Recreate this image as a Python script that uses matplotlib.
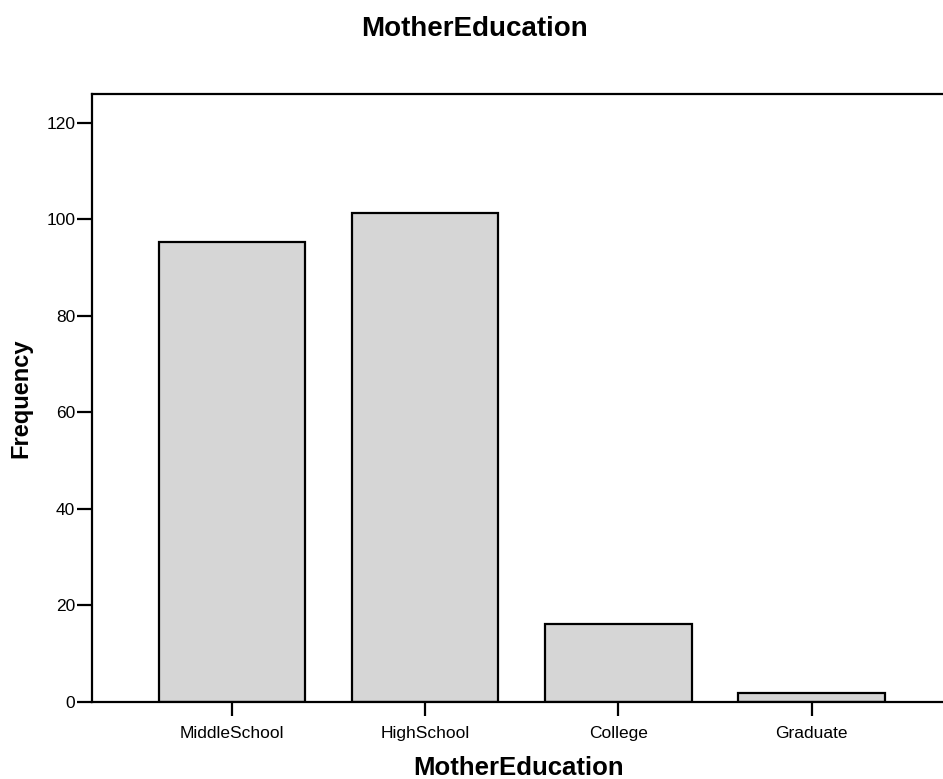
import matplotlib
matplotlib.use("Agg")
import matplotlib.pyplot as plt

categories = ["MiddleSchool", "HighSchool", "College", "Graduate"]
frequency = [95.3, 101.3, 16.2, 1.9]
yticks = [0, 20, 40, 60, 80, 100, 120]

plt.rcParams['font.family'] = ['Liberation Sans', 'DejaVu Sans']

fig = plt.figure(figsize=(9.43, 7.79), dpi=100)
ax = fig.add_axes([92/943, 1 - 702/779, 1 - 92/943 + 0.002, (702 - 94)/779])

x = list(range(len(categories)))
ax.bar(x, frequency, width=0.757, color="#d6d6d6", edgecolor="black", linewidth=1.6, zorder=2)

ax.set_xlim(-0.725, 3.69)
ax.set_ylim(0, 126)
ax.set_yticks(yticks)
ax.set_xticks(x)
ax.set_xticklabels(categories, fontsize=12.5)
ax.tick_params(axis='y', labelsize=12.5, length=11, width=1.6, direction='out', pad=1)
ax.tick_params(axis='x', length=10, width=1.6, direction='out', pad=7)

for s in ax.spines.values():
    s.set_linewidth(1.6)
ax.spines['right'].set_visible(False)

ax.set_ylabel("Frequency", fontsize=17, fontweight='bold', labelpad=10)
ax.set_xlabel("MotherEducation", fontsize=18.5, fontweight='bold', labelpad=11)
fig.text(0.503, 1 - 29/779, "MotherEducation", fontsize=20, fontweight='bold', ha='center', va='center')

fig.savefig("out.png", dpi=100)
